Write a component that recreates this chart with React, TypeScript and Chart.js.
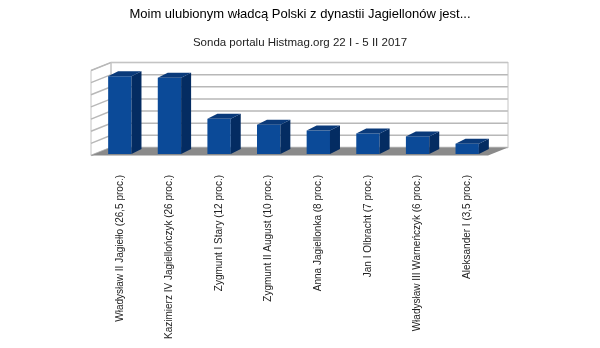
import React, { useEffect, useRef } from "react";
import { Chart, registerables } from "chart.js";

Chart.register(...registerables);

const TITLE = "Moim ulubionym władcą Polski z dynastii Jagiellonów jest...";
const SUBTITLE = "Sonda portalu Histmag.org 22 I - 5 II 2017";

const categories = [
  "Władysław II Jagiełło (26,5 proc.)",
  "Kazimierz IV Jagiellończyk (26 proc.)",
  "Zygmunt I Stary (12 proc.)",
  "Zygmunt II August (10 proc.)",
  "Anna Jagiellonka (8 proc.)",
  "Jan I Olbracht (7 proc.)",
  "Władysław III Warneńczyk (6 proc.)",
  "Aleksander I (3,5 proc.)",
];

const values = [26.5, 26, 12, 10, 8, 7, 6, 3.5];

const gridValues = [0, 4, 8, 12, 16, 20, 24, 28];
const gridMax = 28;
const barAxisMax = 29;

const FONT = '"Liberation Sans", Arial, sans-serif';

// 3D geometry offsets relative to the bar front plane (chart area)
const FRONT = { x: -4, y: 1.5 };
const BACK = { x: 16, y: -6.5 };
const BAR_DEPTH = { x: 10, y: -5 };

const threeD = {
  id: "threeD",
  beforeDatasetsDraw(chart: any) {
    const { ctx, chartArea: a, scales } = chart;
    const gy = scales.y;
    ctx.save();
    // back wall
    ctx.fillStyle = "#ffffff";
    ctx.fillRect(a.left + BACK.x, a.top + BACK.y, a.right - a.left, a.bottom - a.top);
    // left wall
    ctx.beginPath();
    ctx.moveTo(a.left + FRONT.x, a.top + FRONT.y);
    ctx.lineTo(a.left + BACK.x, a.top + BACK.y);
    ctx.lineTo(a.left + BACK.x, a.bottom + BACK.y);
    ctx.lineTo(a.left + FRONT.x, a.bottom + FRONT.y);
    ctx.closePath();
    ctx.fill();
    ctx.strokeStyle = "#c4c4c4";
    ctx.lineWidth = 1;
    ctx.stroke();
    // grid lines
    ctx.strokeStyle = "#b8b8b8";
    ctx.lineWidth = 1.5;
    for (const v of gridValues) {
      const py = gy.getPixelForValue(v);
      ctx.beginPath();
      ctx.moveTo(a.left + FRONT.x, py + FRONT.y);
      ctx.lineTo(a.left + BACK.x, py + BACK.y);
      ctx.lineTo(a.right + BACK.x, py + BACK.y);
      ctx.stroke();
    }
    // back wall frame
    ctx.strokeStyle = "#c4c4c4";
    ctx.lineWidth = 1;
    ctx.strokeRect(a.left + BACK.x, a.top + BACK.y, a.right - a.left, a.bottom - a.top);
    // floor
    ctx.beginPath();
    ctx.moveTo(a.left + FRONT.x, a.bottom + FRONT.y);
    ctx.lineTo(a.right + FRONT.x, a.bottom + FRONT.y);
    ctx.lineTo(a.right + BACK.x, a.bottom + BACK.y);
    ctx.lineTo(a.left + BACK.x, a.bottom + BACK.y);
    ctx.closePath();
    ctx.fillStyle = "#8a8a8a";
    ctx.fill();
    ctx.restore();
  },
  afterDatasetsDraw(chart: any) {
    const { ctx } = chart;
    const meta = chart.getDatasetMeta(0);
    ctx.save();
    for (const bar of meta.data) {
      const p = bar.getProps(["x", "y", "base", "width"], true);
      const l = p.x - p.width / 2;
      const r = p.x + p.width / 2;
      // side face
      ctx.beginPath();
      ctx.moveTo(r, p.y);
      ctx.lineTo(r + BAR_DEPTH.x, p.y + BAR_DEPTH.y);
      ctx.lineTo(r + BAR_DEPTH.x, p.base + BAR_DEPTH.y);
      ctx.lineTo(r, p.base);
      ctx.closePath();
      ctx.fillStyle = "#042c62";
      ctx.fill();
      // top face
      ctx.beginPath();
      ctx.moveTo(l, p.y);
      ctx.lineTo(l + BAR_DEPTH.x, p.y + BAR_DEPTH.y);
      ctx.lineTo(r + BAR_DEPTH.x, p.y + BAR_DEPTH.y);
      ctx.lineTo(r, p.y);
      ctx.closePath();
      ctx.fillStyle = "#0a3a7a";
      ctx.fill();
    }
    ctx.restore();
  },
};

export default function App() {
  const ref = useRef<HTMLCanvasElement | null>(null);

  useEffect(() => {
    if (!ref.current) return;
    const chart = new Chart(ref.current, {
      type: "bar",
      data: {
        labels: categories,
        datasets: [
          {
            data: values,
            yAxisID: "yBars",
            backgroundColor: "#0b4a98",
            borderWidth: 0,
            barPercentage: 0.47,
            categoryPercentage: 1,
          },
        ],
      },
      options: {
        responsive: false,
        animation: false,
        layout: { padding: { left: 95, right: 95, top: 0, bottom: 0 } },
        plugins: {
          legend: { display: false },
          tooltip: { enabled: false },
          title: {
            display: true,
            text: TITLE,
            color: "#000000",
            font: { family: FONT, size: 13, weight: "normal" },
            padding: { top: 6.7, bottom: 8 },
          },
          subtitle: {
            display: true,
            text: SUBTITLE,
            color: "#222222",
            font: { family: FONT, size: 11.5, weight: "normal" },
            padding: { top: 5.8, bottom: 19.1 },
          },
        },
        scales: {
          x: {
            grid: { display: false, drawTicks: false },
            border: { display: false },
            ticks: {
              minRotation: 90,
              maxRotation: 90,
              autoSkip: false,
              padding: 21,
              color: "#222222",
              font: { family: FONT, size: 10 },
            },
            afterFit: (scale: any) => {
              scale.height = 194;
            },
          },
          y: {
            display: false,
            min: 0,
            max: gridMax,
          },
          yBars: {
            position: "right",
            min: 0,
            max: barAxisMax,
            grid: { display: false, drawTicks: false },
            border: { display: false },
            ticks: { display: false },
            afterFit: (scale: any) => {
              scale.width = 13;
            },
          },
        },
      },
      plugins: [threeD],
    });
    return () => chart.destroy();
  }, []);

  return (
    <div style={{ position: "absolute", left: 0, top: 0, width: 600, height: 348, background: "#ffffff" }}>
      <canvas ref={ref} width={600} height={348} style={{ display: "block" }} />
    </div>
  );
}
